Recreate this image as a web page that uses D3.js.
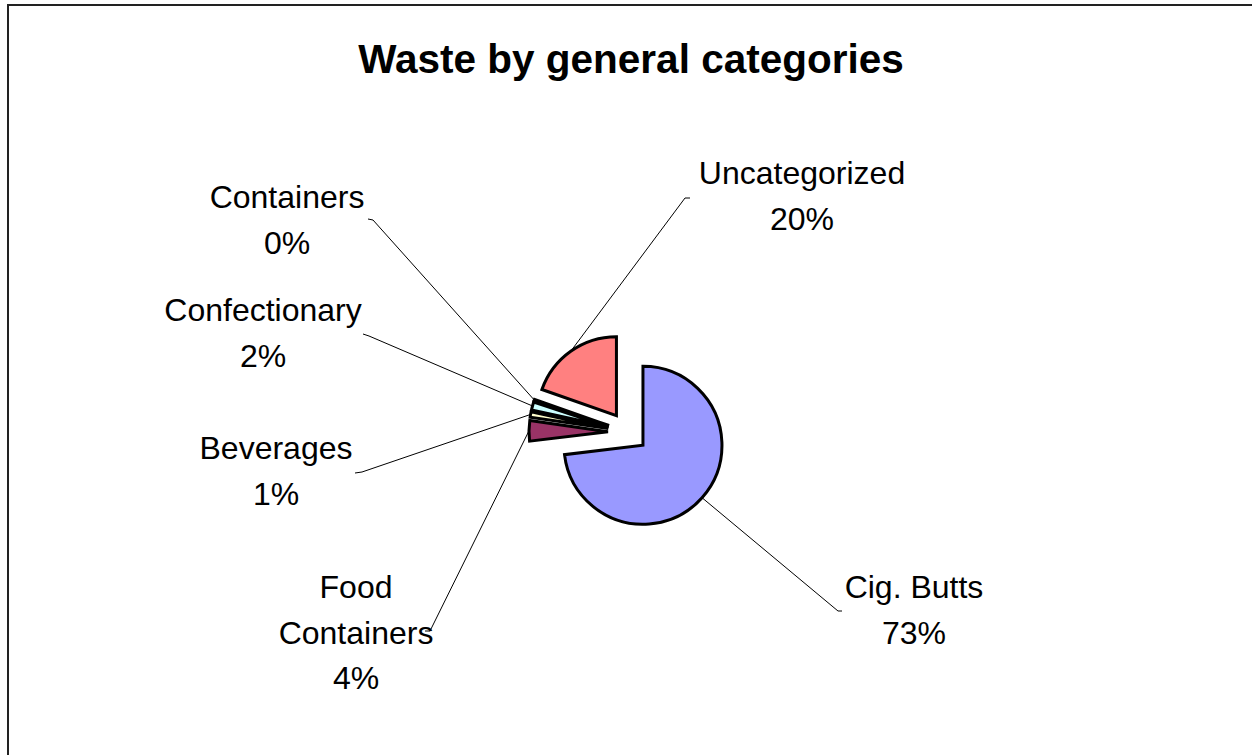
<!DOCTYPE html>
<html lang="en">
<head>
<meta charset="utf-8">
<title>Waste by general categories</title>
<script type="text/javascript" src="https://d3js.org/d3.v7.min.js"></script>
<style>
body { margin: 0; background: #fff; }
.slice { stroke: #000; stroke-width: 3; stroke-linejoin: miter; }
.leader { fill: none; stroke: #000; stroke-width: 1; }
.label { font-family: "Liberation Sans", Arial, sans-serif; font-size: 32px; fill: #000; }
.title { font-family: "Liberation Sans", Arial, sans-serif; font-size: 40.5px; font-weight: bold; }
</style>
</head>
<body>
<div id="chart"></div>
<script type="text/javascript">

// data (share of items, %)
var categories = ["Cig. Butts", "Food Containers", "Beverages", "Confectionary", "Containers", "Uncategorized"];
var values = [73.4, 4.2, 1.1, 1.7, 0.3, 19.7];
var colours = ["#9999FF", "#993366", "#FFFFCC", "#CCFFFF", "#660066", "#FF8080"];

// label text lines + where Excel put them (center x, first baseline)
var labelLines = [["Cig. Butts"], ["Food", "Containers"], ["Beverages"], ["Confectionary"], ["Containers"], ["Uncategorized"]];
var labelPos = [[914, 598], [356, 598], [276, 459], [263, 321], [287, 208], [802, 184]];
// where each leader line leaves the label: [tick start, tick end]
var leaderStart = [[[842, 611], [838, 611]], [[425, 631], [430, 631]], [[355, 473], [362, 472]],
                   [[363, 334], [369, 336]], [[368, 219], [373, 220]], [[690, 198], [685, 198]]];

var w = 1252, h = 755;
var cx = 628, cy = 432, r = 79, explode = 20;
var lineH = 45.5;

var svg = d3.select("#chart").append("svg")
  .attr("width", w)
  .attr("height", h);

// chart area border (only top and left visible)
svg.append("path")
  .attr("d", "M8,755 L8,5 L1252,5")
  .attr("fill", "none")
  .attr("stroke", "#222")
  .attr("stroke-width", 2);

svg.append("text")
  .attr("class", "title")
  .attr("x", 631)
  .attr("y", 73)
  .attr("text-anchor", "middle")
  .text("Waste by general categories");

var total = d3.sum(values);
var pie = d3.pie().sort(null).value(function(d) { return d; })(values);
var arc = d3.arc().innerRadius(0).outerRadius(r);

function midDir(d) {
  var a = (d.startAngle + d.endAngle) / 2;
  return [Math.sin(a), -Math.cos(a)];
}

var g = svg.append("g").attr("transform", "translate(" + cx + "," + cy + ")");

g.selectAll("path.slice")
  .data(pie)
  .enter()
  .append("path")
  .attr("class", "slice")
  .attr("fill", function(d, i) { return colours[i]; })
  .attr("transform", function(d) {
    var m = midDir(d);
    return "translate(" + (m[0] * explode) + "," + (m[1] * explode) + ")";
  })
  .attr("d", arc);

// leader lines
svg.selectAll("path.leader")
  .data(pie)
  .enter()
  .append("path")
  .attr("class", "leader")
  .attr("d", function(d, i) {
    var m = midDir(d);
    var end = [cx + m[0] * (explode + r), cy + m[1] * (explode + r)];
    var s = leaderStart[i];
    return d3.line()([s[0], s[1], end]);
  });

// labels
var labels = svg.selectAll("text.label")
  .data(pie)
  .enter()
  .append("text")
  .attr("class", "label")
  .attr("text-anchor", "middle");

labels.each(function(d, i) {
  var t = d3.select(this);
  var lines = labelLines[i].concat([Math.round(d.value / total * 100) + "%"]);
  lines.forEach(function(s, k) {
    t.append("tspan")
      .attr("x", labelPos[i][0])
      .attr("y", labelPos[i][1] + k * lineH)
      .text(s);
  });
});

</script>
</body>
</html>
